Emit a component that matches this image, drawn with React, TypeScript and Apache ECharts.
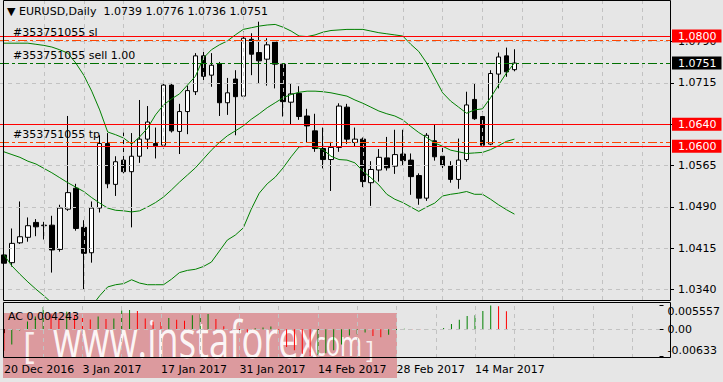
import React, { useEffect, useRef } from 'react';
import * as echarts from 'echarts';

const FONT = '"DejaVu Sans", Tahoma, sans-serif';

const symbolName = 'EURUSD';
const period = 'Daily';

const dates = [
  '20 Dec 2016', '21 Dec 2016', '22 Dec 2016', '23 Dec 2016', '26 Dec 2016', '27 Dec 2016', '28 Dec 2016', '29 Dec 2016', '30 Dec 2016', '2 Jan 2017',
  '3 Jan 2017', '4 Jan 2017', '5 Jan 2017', '6 Jan 2017', '9 Jan 2017', '10 Jan 2017', '11 Jan 2017', '12 Jan 2017', '13 Jan 2017', '16 Jan 2017',
  '17 Jan 2017', '18 Jan 2017', '19 Jan 2017', '20 Jan 2017', '23 Jan 2017', '24 Jan 2017', '25 Jan 2017', '26 Jan 2017', '27 Jan 2017', '30 Jan 2017',
  '31 Jan 2017', '1 Feb 2017', '2 Feb 2017', '3 Feb 2017', '6 Feb 2017', '7 Feb 2017', '8 Feb 2017', '9 Feb 2017', '10 Feb 2017', '13 Feb 2017',
  '14 Feb 2017', '15 Feb 2017', '16 Feb 2017', '17 Feb 2017', '20 Feb 2017', '21 Feb 2017', '22 Feb 2017', '23 Feb 2017', '24 Feb 2017', '27 Feb 2017',
  '28 Feb 2017', '1 Mar 2017', '2 Mar 2017', '3 Mar 2017', '6 Mar 2017', '7 Mar 2017', '8 Mar 2017', '9 Mar 2017', '10 Mar 2017', '13 Mar 2017',
  '14 Mar 2017', '15 Mar 2017', '16 Mar 2017', '17 Mar 2017', '20 Mar 2017',
];

// empty slots to the right of the last bar (no data yet)
const futureDates = [
  '21 Mar 2017', '22 Mar 2017', '23 Mar 2017', '24 Mar 2017', '27 Mar 2017', '28 Mar 2017', '29 Mar 2017', '30 Mar 2017', '31 Mar 2017', '3 Apr 2017',
  '4 Apr 2017', '5 Apr 2017', '6 Apr 2017', '7 Apr 2017', '10 Apr 2017', '11 Apr 2017', '12 Apr 2017', '13 Apr 2017', '14 Apr 2017',
];

const opens = [
  1.0403, 1.0389, 1.0425, 1.0435, 1.0462, 1.0456, 1.0457, 1.0413, 1.0486, 1.0524,
  1.0453, 1.0407, 1.0488, 1.0605, 1.0531, 1.0575, 1.0554, 1.0582, 1.0613, 1.0605,
  1.0602, 1.0711, 1.0627, 1.0663, 1.0699, 1.0764, 1.0729, 1.0750, 1.0679, 1.0722,
  1.0691, 1.0794, 1.0770, 1.0758, 1.0789, 1.0749, 1.0680, 1.0696, 1.0655, 1.0628,
  1.0596, 1.0576, 1.0598, 1.0671, 1.0607, 1.0613, 1.0534, 1.0557, 1.0579, 1.0564,
  1.0586, 1.0575, 1.0547, 1.0506, 1.0610, 1.0582, 1.0565, 1.0540, 1.0576, 1.0685,
  1.0654, 1.0604, 1.0731, 1.0764, 1.0739,
];
const highs = [
  1.0418, 1.0451, 1.0500, 1.0471, 1.0468, 1.0463, 1.0474, 1.0494, 1.0655, 1.0532,
  1.0466, 1.0500, 1.0620, 1.0624, 1.0582, 1.0625, 1.0624, 1.0684, 1.0673, 1.0634,
  1.0718, 1.0715, 1.0677, 1.0710, 1.0769, 1.0775, 1.0769, 1.0753, 1.0724, 1.0738,
  1.0808, 1.0805, 1.0826, 1.0796, 1.0791, 1.0750, 1.0713, 1.0709, 1.0668, 1.0659,
  1.0634, 1.0608, 1.0678, 1.0677, 1.0634, 1.0616, 1.0573, 1.0595, 1.0617, 1.0630,
  1.0630, 1.0587, 1.0551, 1.0624, 1.0639, 1.0599, 1.0573, 1.0614, 1.0699, 1.0714,
  1.0663, 1.0738, 1.0770, 1.0779, 1.0776,
];
const lows = [
  1.0352, 1.0382, 1.0423, 1.0427, 1.0437, 1.0431, 1.0371, 1.0409, 1.0483, 1.0447,
  1.0341, 1.0389, 1.0480, 1.0524, 1.0510, 1.0551, 1.0453, 1.0570, 1.0595, 1.0578,
  1.0596, 1.0625, 1.0586, 1.0622, 1.0693, 1.0717, 1.0708, 1.0655, 1.0657, 1.0620,
  1.0684, 1.0729, 1.0714, 1.0710, 1.0705, 1.0654, 1.0640, 1.0648, 1.0607, 1.0590,
  1.0560, 1.0519, 1.0590, 1.0604, 1.0600, 1.0526, 1.0492, 1.0536, 1.0556, 1.0550,
  1.0566, 1.0512, 1.0494, 1.0501, 1.0574, 1.0556, 1.0534, 1.0523, 1.0572, 1.0648,
  1.0597, 1.0602, 1.0705, 1.0726, 1.0736,
];
const closes = [
  1.0388, 1.0424, 1.0436, 1.0456, 1.0454, 1.0457, 1.0412, 1.0488, 1.0516, 1.0451,
  1.0406, 1.0488, 1.0605, 1.0532, 1.0572, 1.0554, 1.0582, 1.0613, 1.0644, 1.0601,
  1.0711, 1.0628, 1.0663, 1.0701, 1.0764, 1.0727, 1.0747, 1.0679, 1.0697, 1.0690,
  1.0796, 1.0767, 1.0755, 1.0784, 1.0749, 1.0681, 1.0695, 1.0654, 1.0637, 1.0596,
  1.0576, 1.0598, 1.0673, 1.0613, 1.0613, 1.0536, 1.0558, 1.0580, 1.0561, 1.0585,
  1.0574, 1.0545, 1.0506, 1.0620, 1.0581, 1.0565, 1.0540, 1.0575, 1.0675, 1.0650,
  1.0602, 1.0732, 1.0762, 1.0735, 1.0751,
];

// Bollinger bands as drawn on the chart
const bbUpper = [
  1.0787, 1.0787, 1.0787, 1.0787, 1.0785, 1.0783, 1.0780, 1.0775, 1.0769, 1.0751,
  1.0729, 1.0700, 1.0666, 1.0626, 1.0621, 1.0615, 1.0604, 1.0617, 1.0633, 1.0657,
  1.0675, 1.0686, 1.0695, 1.0711, 1.0727, 1.0760, 1.0775, 1.0784, 1.0791, 1.0802,
  1.0812, 1.0815, 1.0818, 1.0820, 1.0821, 1.0816, 1.0809, 1.0800, 1.0799, 1.0802,
  1.0807, 1.0810, 1.0811, 1.0812, 1.0812, 1.0812, 1.0809, 1.0806, 1.0804, 1.0802,
  1.0800, 1.0785, 1.0772, 1.0751, 1.0724, 1.0697, 1.0682, 1.0671, 1.0660, 1.0666,
  1.0668, 1.0688, 1.0711, 1.0733, 1.0751,
];
const bbMiddle = [
  1.0590, 1.0585, 1.0580, 1.0573, 1.0568, 1.0560, 1.0552, 1.0543, 1.0534, 1.0526,
  1.0518, 1.0507, 1.0497, 1.0488, 1.0484, 1.0483, 1.0481, 1.0483, 1.0490, 1.0498,
  1.0508, 1.0521, 1.0535, 1.0548, 1.0561, 1.0577, 1.0593, 1.0607, 1.0619, 1.0628,
  1.0637, 1.0649, 1.0659, 1.0670, 1.0679, 1.0688, 1.0694, 1.0698, 1.0700, 1.0700,
  1.0699, 1.0697, 1.0694, 1.0691, 1.0684, 1.0678, 1.0671, 1.0664, 1.0659, 1.0655,
  1.0648, 1.0636, 1.0625, 1.0616, 1.0606, 1.0600, 1.0593, 1.0590, 1.0587, 1.0588,
  1.0589, 1.0594, 1.0601, 1.0609, 1.0613,
];
const bbLower = [
  1.0403, 1.0383, 1.0368, 1.0354, 1.0341, 1.0329, 1.0316, 1.0305, 1.0298, 1.0294,
  1.0298, 1.0310, 1.0329, 1.0345, 1.0349, 1.0351, 1.0358, 1.0352, 1.0349, 1.0349,
  1.0349, 1.0359, 1.0371, 1.0375, 1.0377, 1.0382, 1.0390, 1.0410, 1.0430, 1.0439,
  1.0452, 1.0486, 1.0515, 1.0532, 1.0544, 1.0561, 1.0581, 1.0599, 1.0600, 1.0599,
  1.0594, 1.0582, 1.0576, 1.0575, 1.0570, 1.0555, 1.0543, 1.0530, 1.0513, 1.0504,
  1.0498, 1.0490, 1.0482, 1.0490, 1.0497, 1.0510, 1.0513, 1.0515, 1.0518, 1.0513,
  1.0513, 1.0504, 1.0494, 1.0485, 1.0477,
];

// Accelerator Oscillator
const acValues = [
  -0.0051, -0.0036, -0.0003, 0.0018, 0.0030, 0.0052, 0.0035, 0.0025, 0.0041, 0.0033,
  0.0027, 0.0023, 0.0030, 0.0024, 0.0025, 0.0044, 0.0045, 0.0043, 0.0025, 0.0018,
  0.0017, 0.0026, 0.0022, 0.0020, 0.0033, 0.0035, 0.0036, 0.0024, 0.0007, -0.0001,
  -0.0006, -0.0008, 0.0002, 0.0004, 0.0006, -0.0010, -0.0042, -0.0050, -0.0058, -0.00633,
  -0.0061, -0.0057, -0.0050, -0.0036, -0.0015, -0.0012, -0.0008, -0.0016, -0.0019, -0.0013,
  -0.0003, 0.0001, 0.00005, -0.0001, 0.00002, 0.00004, 0.0003, 0.0012, 0.0022, 0.0031,
  0.0033, 0.0043, 0.005557, 0.0054, 0.004243,
];
const acBeforeFirst = -0.0040; // bar just left of the view (first visible bar is falling)

const priceTicks = [1.0340, 1.0415, 1.0490, 1.0565, 1.0640, 1.0715, 1.0790];
const acTicks = [-0.00633, 0, 0.005557];
const acTickLabels = ['-0.00633', '0.00', '0.005557'];

const redLevels = [1.0800, 1.0640, 1.0600];
const orderTicket = '#353751055';
const orderText = 'sell 1.00';
const orderOpen = 1.0751;
const stopLoss = 1.0793;
const takeProfit = 1.0607;
const bidPrice = 1.0751;

const gridBars = [5, 10, 15, 20, 25, 30, 35, 40, 45, 50, 55, 60, 65, 70, 75, 80];
const dateLabelEvery = 10;

const watermarkText = 'www.instaforex';
const watermarkDomain = '.com';

export default function App() {
  const ref = useRef<HTMLDivElement>(null);

  useEffect(() => {
    if (!ref.current) return;
    const chart = echarts.init(ref.current, undefined, { renderer: 'svg' });
    const categories = dates.concat(futureDates);
    const candleData = opens.map((o, i) => [o, closes[i], lows[i], highs[i]]);
    const last = dates.length - 1;
    const f4 = (v: number) => v.toFixed(4);
    const showDate = (index: number) => index % dateLabelEvery === 0 && index < dates.length;

    const dashGrid = { color: '#c2c2c2', type: [4, 4] as any, width: 1 };
    const dashDot = [9, 3, 3, 3];
    const boxLabel = (text: string, bg: string) => ({
      show: true, position: 'end', formatter: text, distance: 2,
      backgroundColor: bg, color: '#ffffff', fontFamily: FONT, fontSize: 11, lineHeight: 12, padding: [1, 5, 0, 6],
    });
    const startLabel = (text: string) => ({
      show: true, position: 'insideStartTop', formatter: text, color: '#000', fontFamily: FONT, fontSize: 11, distance: [13, 2],
    });

    const option: any = {
      animation: false,
      backgroundColor: '#e6e6e6',
      textStyle: { fontFamily: FONT, fontSize: 11, color: '#000' },
      title: {
        text: `\u25BC ${symbolName},${period}  ${f4(opens[last])} ${f4(highs[last])} ${f4(lows[last])} ${f4(closes[last])}`,
        left: 7,
        top: 6,
        padding: 0,
        textStyle: { fontFamily: FONT, fontSize: 11, fontWeight: 'normal', color: '#000' },
      },
      grid: [
        { left: -1, right: 53, top: 1, height: 299, show: false },
        { left: -1, right: 53, top: 302, height: 56, show: false },
      ],
      xAxis: [
        {
          type: 'category', gridIndex: 0, data: categories, boundaryGap: true,
          axisLine: { show: false }, axisTick: { show: false }, axisLabel: { show: false }, splitLine: { show: false },
        },
        {
          type: 'category', gridIndex: 1, data: categories, boundaryGap: true,
          axisLine: { show: false },
          axisTick: { show: true, alignWithLabel: true, interval: (i: number) => showDate(i), length: 4, lineStyle: { color: '#000' } },
          axisLabel: { show: true, interval: (i: number) => showDate(i), align: 'left', margin: 6, color: '#000', fontFamily: FONT, fontSize: 11 },
          splitLine: { show: false },
        },
      ],
      yAxis: [
        {
          type: 'value', gridIndex: 0, position: 'right', min: 1.03213, max: 1.08635, scale: true,
          axisLine: { show: false }, splitLine: { show: false },
          axisTick: { show: true, customValues: priceTicks, length: 4, lineStyle: { color: '#000' } },
          axisLabel: { customValues: priceTicks, formatter: (v: number) => f4(v), margin: 8, color: '#000', fontFamily: FONT, fontSize: 11 },
        },
        {
          type: 'value', gridIndex: 1, position: 'right', min: -0.0068, max: 0.0064, scale: true,
          axisLine: { show: false }, splitLine: { show: false },
          axisTick: { show: true, customValues: acTicks, length: 4, lineStyle: { color: '#000' } },
          axisLabel: {
            customValues: acTicks,
            formatter: (v: number) => {
              let best = 0;
              acTicks.forEach((t, k) => { if (Math.abs(t - v) < Math.abs(acTicks[best] - v)) best = k; });
              return acTickLabels[best];
            },
            verticalAlignMinLabel: 'bottom',
            verticalAlignMaxLabel: 'top',
            margin: 8, color: '#000', fontFamily: FONT, fontSize: 11,
          },
        },
      ],
      series: [
        {
          type: 'line', xAxisIndex: 0, yAxisIndex: 0, data: [], z: 1, silent: true,
          markLine: {
            silent: true, precision: 6, symbol: ['none', 'none'], label: { show: false }, lineStyle: dashGrid,
            data: [...priceTicks.map((v) => ({ yAxis: v })), ...gridBars.map((i) => ({ xAxis: i }))],
          },
        },
        {
          type: 'line', xAxisIndex: 1, yAxisIndex: 1, data: [], z: 1, silent: true,
          markLine: {
            silent: true, precision: 6, symbol: ['none', 'none'], label: { show: false }, lineStyle: dashGrid,
            data: [{ yAxis: 0 }, ...gridBars.map((i) => ({ xAxis: i }))],
          },
        },
        {
          type: 'candlestick', xAxisIndex: 0, yAxisIndex: 0, data: candleData, barWidth: 5, z: 2,
          itemStyle: { color: '#ffffff', color0: '#000000', borderColor: '#000000', borderColor0: '#000000', borderWidth: 1 },
        },
        ...[bbUpper, bbMiddle, bbLower].map((d) => ({
          type: 'line', xAxisIndex: 0, yAxisIndex: 0, data: d, symbol: 'none', z: 3, silent: true,
          lineStyle: { color: '#008000', width: 1 },
        })),
        {
          type: 'line', xAxisIndex: 0, yAxisIndex: 0, data: [], z: 5, silent: true,
          markLine: {
            silent: true, precision: 6, symbol: ['none', 'none'],
            data: [
              { yAxis: bidPrice, lineStyle: { color: 'rgba(0,0,0,0)', width: 1, type: 'solid' }, label: boxLabel(f4(bidPrice), '#000000') },
              { yAxis: stopLoss, lineStyle: { color: '#ff4500', type: dashDot, width: 1 }, label: startLabel(`${orderTicket} sl`) },
              { yAxis: takeProfit, lineStyle: { color: '#ff4500', type: dashDot, width: 1 }, label: startLabel(`${orderTicket} tp`) },
              { yAxis: orderOpen, lineStyle: { color: '#007000', type: dashDot, width: 1 }, label: startLabel(`${orderTicket} ${orderText}`) },
              ...redLevels.map((v) => ({
                yAxis: v,
                lineStyle: { color: '#ff0000', type: 'solid', width: 1 },
                label: boxLabel(f4(v), '#ff0000'),
              })),
            ],
          },
        },
        {
          type: 'bar', xAxisIndex: 1, yAxisIndex: 1, data: acValues, barWidth: 1, z: 2, silent: true,
          itemStyle: {
            color: (p: any) => {
              const prev = p.dataIndex === 0 ? acBeforeFirst : acValues[p.dataIndex - 1];
              return acValues[p.dataIndex] < prev ? '#ff0000' : '#008000';
            },
          },
        },
      ],
      graphic: [
        { type: 'rect', silent: true, z: 10, shape: { x: 3.5, y: 0.5, width: 667, height: 300 }, style: { fill: 'none', stroke: '#000', lineWidth: 1 } },
        { type: 'rect', silent: true, z: 10, shape: { x: 3.5, y: 302.5, width: 667, height: 55 }, style: { fill: 'none', stroke: '#000', lineWidth: 1 } },
        { type: 'text', silent: true, z: 11, x: 8, y: 316, style: { text: `AC ${acValues[last]}`, font: `11px ${FONT}`, fill: '#000', verticalAlign: 'middle' } },
        {
          type: 'group', silent: true, z: 30,
          children: [
            { type: 'rect', shape: { x: 3, y: 313, width: 394, height: 65 }, style: { fill: 'rgba(208,62,72,0.45)' } },
            { type: 'text', x: 23, y: 344, style: { text: '[', font: '36px "Open Sans"', fill: 'rgba(255,255,255,0.85)', verticalAlign: 'middle' } },
            { type: 'text', x: 53, y: 338, scaleX: 0.7, style: { text: watermarkText, font: '52px "Open Sans"', fill: 'rgba(255,255,255,0.92)', verticalAlign: 'middle' } },
            { type: 'text', x: 308, y: 343, scaleX: 0.7, style: { text: watermarkDomain, font: '34px "Open Sans"', fill: 'rgba(255,255,255,0.92)', verticalAlign: 'middle' } },
            { type: 'text', x: 366, y: 348, style: { text: ']', font: '24px "Open Sans"', fill: 'rgba(255,255,255,0.85)', verticalAlign: 'middle' } },
          ],
        },
      ],
    };

    chart.setOption(option);
    return () => chart.dispose();
  }, []);

  return <div ref={ref} style={{ position: 'fixed', left: 0, top: 0, width: 723, height: 382 }} />;
}
